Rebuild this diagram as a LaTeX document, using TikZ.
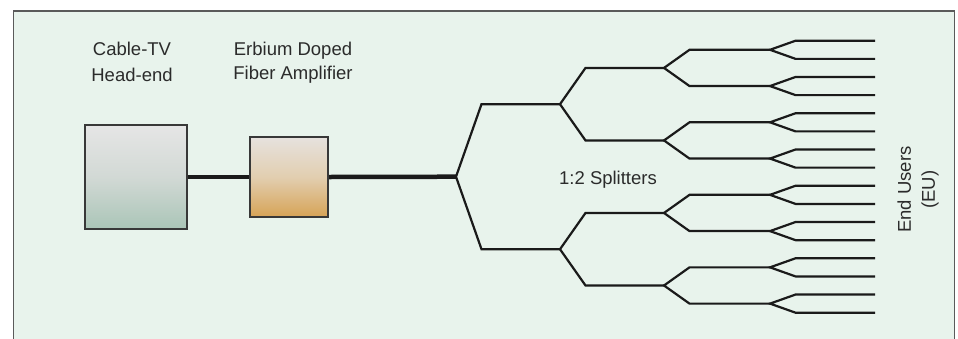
\documentclass[tikz,border=0pt]{standalone}
\usepackage{fontspec}
\setmainfont{Liberation Sans}
\definecolor{framebg}{HTML}{E8F3EC}
\definecolor{framedraw}{HTML}{5A5A5A}
\definecolor{boxdraw}{HTML}{383838}
\definecolor{fiber}{HTML}{1A1A1A}
\definecolor{txt}{HTML}{2B2B2B}
\begin{document}
\begin{tikzpicture}[x=1pt,y=-1pt,
  lbl/.style={text=txt,font=\fontsize{18.5}{24}\selectfont,inner sep=0pt},
  devbox/.style={draw=boxdraw,line width=2pt,inner sep=0pt},
  trunk/.style={draw=fiber,line width=4.5pt},
  branch/.style={draw=fiber,line width=2.2pt,line join=miter}]
\useasboundingbox (0,0) rectangle (958,338);
% frame
\fill[framebg] (13.5,11) rectangle (954.5,345);
\draw[framedraw,line width=1.5pt] (13.5,345) -- (13.5,11) -- (954.5,11) -- (954.5,345);
% devices
\node[devbox,minimum width=102pt,minimum height=104pt,top color=black!10,bottom color={rgb,255:red,170;green,197;blue,183},middle color={rgb,255:red,210;green,217;blue,213}] (head) at (136,177) {};
\node[devbox,minimum width=78pt,minimum height=80pt,top color={rgb,255:red,230;green,226;blue,222},bottom color={rgb,255:red,214;green,163;blue,86},middle color={rgb,255:red,226;green,206;blue,176}] (edfa) at (289,177) {};
% labels
\node[lbl,anchor=base] (ctv1) at (132,55) {Cable-TV};
\node[lbl,anchor=base] (ctv2) at (132,81.7) {Head-end};
\node[lbl,anchor=base] (edfa1) at (293,55) {Erbium Doped};
\node[lbl,anchor=base] (edfa2) at (293,79.5) {Fiber Amplifier};
\node[lbl,anchor=base] (split) at (608,184) {1:2 Splitters};
\node[lbl,rotate=90,align=center,anchor=center] (eu) at (918,189.5) {End Users\\(EU)};
% splitter tree
\def\yc{176.7}
\def\dd{18.13}
\coordinate (s1-1) at (456,\yc);
\draw[trunk] (head.east) -- (edfa.west);
\draw[trunk] (edfa.east) -- (s1-1);
\foreach \k/\xs/\xn/\n in {1/456/560/1, 2/560/664/2, 3/664/770/4, 4/770/875/8}{
  \foreach \m in {1,...,\n}{
    \pgfmathsetmacro{\yy}{\yc+((\m-0.5)-\n/2)*(16/\n)*\dd}
    \pgfmathsetmacro{\hh}{4*\dd/\n}
    \coordinate (p\k-\m) at (\xs,\yy);
    \coordinate (ua\k-\m) at (\xs+25.5,\yy-\hh);
    \coordinate (ub\k-\m) at (\xn,\yy-\hh);
    \coordinate (la\k-\m) at (\xs+25.5,\yy+\hh);
    \coordinate (lb\k-\m) at (\xn,\yy+\hh);
    \draw[branch] (ub\k-\m) -- (ua\k-\m) -- (p\k-\m) -- (la\k-\m) -- (lb\k-\m);
  }
}
\end{tikzpicture}
\end{document}
